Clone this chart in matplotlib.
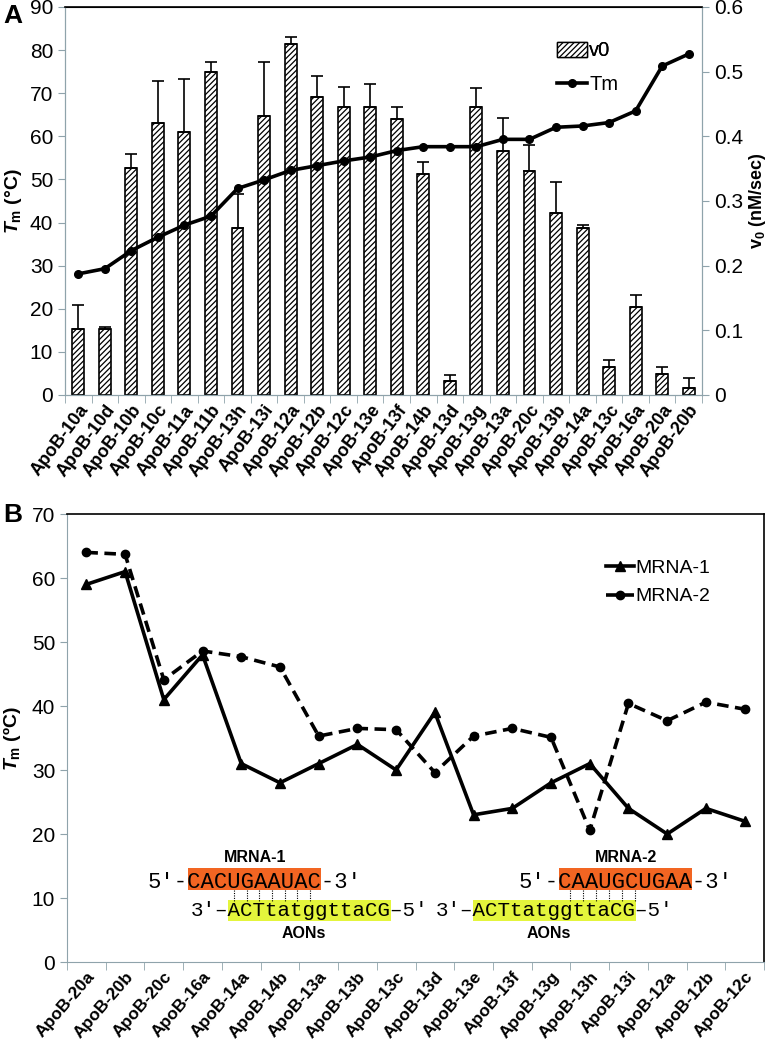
import numpy as np
import matplotlib
matplotlib.use('Agg')
import matplotlib.pyplot as plt
from matplotlib.lines import Line2D
from matplotlib.patches import Patch, Rectangle

plt.rcParams['font.family'] = ['Liberation Sans', 'DejaVu Sans']
plt.rcParams['mathtext.fontset'] = 'custom'
plt.rcParams['mathtext.it'] = 'Liberation Sans:italic:bold'
plt.rcParams['mathtext.rm'] = 'Liberation Sans:bold'
plt.rcParams['mathtext.bf'] = 'Liberation Sans:bold'
plt.rcParams['hatch.linewidth'] = 0.9

# ---- panel A data ----
names_a = ['ApoB-10a', 'ApoB-10d', 'ApoB-10b', 'ApoB-10c', 'ApoB-11a', 'ApoB-11b',
           'ApoB-13h', 'ApoB-13i', 'ApoB-12a', 'ApoB-12b', 'ApoB-12c', 'ApoB-13e',
           'ApoB-13f', 'ApoB-14b', 'ApoB-13d', 'ApoB-13g', 'ApoB-13a', 'ApoB-20c',
           'ApoB-13b', 'ApoB-14a', 'ApoB-13c', 'ApoB-16a', 'ApoB-20a', 'ApoB-20b']
v0 = [0.102, 0.102, 0.351, 0.421, 0.406, 0.499, 0.258, 0.432, 0.543, 0.461, 0.445, 0.445,
      0.427, 0.342, 0.021, 0.445, 0.378, 0.347, 0.282, 0.258, 0.043, 0.136, 0.032, 0.011]
v0_top = [0.139, 0.105, 0.373, 0.486, 0.489, 0.515, 0.311, 0.515, 0.553, 0.493, 0.477, 0.481,
          0.445, 0.361, 0.031, 0.475, 0.429, 0.386, 0.330, 0.263, 0.054, 0.154, 0.044, 0.026]
tm_a = [28.1, 29.3, 33.5, 36.6, 39.4, 41.5, 47.9, 49.9, 52.1, 53.2, 54.3, 55.2,
        56.7, 57.6, 57.6, 57.6, 59.3, 59.3, 62.1, 62.4, 63.2, 65.9, 76.3, 79.1]

# ---- panel B data ----
names_b = ['ApoB-20a', 'ApoB-20b', 'ApoB-20c', 'ApoB-16a', 'ApoB-14a', 'ApoB-14b',
           'ApoB-13a', 'ApoB-13b', 'ApoB-13c', 'ApoB-13d', 'ApoB-13e', 'ApoB-13f',
           'ApoB-13g', 'ApoB-13h', 'ApoB-13i', 'ApoB-12a', 'ApoB-12b', 'ApoB-12c']
mrna1 = [59, 61, 41, 48, 31, 28, 31, 34, 30, 39, 23, 24, 28, 31, 24, 20, 24, 22]
mrna2 = [64, 63.7, 44.1, 48.6, 47.7, 46.1, 35.3, 36.5, 36.3, 29.6, 35.3, 36.5,
         35.1, 20.6, 40.4, 37.7, 40.6, 39.5]

GRAY = '#8fa3ab'
W, H = 771, 1047


def fx(x):
    return x / W


def fy(y):
    return 1 - y / H


def style_axis(ax, n):
    for side in ['left', 'bottom', 'right']:
        ax.spines[side].set_color(GRAY)
    ax.spines['top'].set_color('black')
    ax.spines['top'].set_linewidth(1.2)
    ax.set_xlim(-0.5, n - 0.5)
    ax.set_xticks(np.arange(-0.5, n, 1), minor=True)
    ax.tick_params(axis='x', which='major', length=0, pad=5)
    ax.tick_params(axis='x', which='minor', length=6, color=GRAY)
    ax.tick_params(axis='y', length=5, color=GRAY, labelsize=15)


fig = plt.figure(figsize=(W / 100, H / 100), dpi=100)

# ================= panel A =================
ax = fig.add_axes([fx(65), fy(395), fx(702) - fx(65), fy(7) - fy(395)])
ax2 = ax.twinx()
xa = np.arange(len(names_a))
err = np.array(v0_top) - np.array(v0)
ax2.bar(xa, v0, width=0.45, color='white', edgecolor='black', linewidth=1.2,
        hatch='//////', yerr=[np.zeros(len(v0)), err],
        error_kw=dict(ecolor='black', elinewidth=1.2, capsize=4, capthick=1.2))
ax2.set_ylim(0, 0.6)
ax2.set_yticks(np.arange(0, 0.61, 0.1))
ax2.set_yticklabels(['0', '0.1', '0.2', '0.3', '0.4', '0.5', '0.6'])
ax2.tick_params(axis='y', length=5, color=GRAY, labelsize=15)
ax2.set_ylabel(r'$\mathrm{v}_\mathrm{0}$ (nM/sec)', fontsize=13, fontweight='bold', labelpad=3)

ax.set_zorder(ax2.get_zorder() + 1)
ax.patch.set_visible(False)
ax.plot(xa, tm_a, color='black', lw=2.6, marker='o', ms=5.5)
ax.set_ylim(0, 90)
ax.set_yticks(np.arange(0, 91, 10))
style_axis(ax, len(names_a))
for side in ['left', 'bottom', 'right']:
    ax2.spines[side].set_color(GRAY)
ax2.spines['top'].set_color('black')
ax.set_xticks(xa)
ax.set_xticklabels(names_a, rotation=53, ha='right', rotation_mode='anchor',
                   fontsize=13, fontweight='bold')
ax.set_ylabel(r'$T_\mathrm{m}$ (°C)', fontsize=14, fontweight='bold', labelpad=4)

# legend entries placed one by one so the row spacing matches
leg_v0 = fig.legend([Patch(facecolor='white', edgecolor='black', hatch='//////', linewidth=1)],
                    ['v0'], loc='center left', bbox_to_anchor=(fx(553), fy(51)),
                    frameon=False, fontsize=14.5, handlelength=1.5, handletextpad=0.1,
                    borderaxespad=0, borderpad=0.2)
fig.legend([Line2D([], [], color='black', lw=2.6, marker='o', ms=5.5)], ['Tm'],
           loc='center left', bbox_to_anchor=(fx(553), fy(85)),
           frameon=False, fontsize=14.5, handlelength=1.5, handletextpad=0.1,
           borderaxespad=0, borderpad=0.2)
fig.add_artist(leg_v0)
fig.text(fx(3), fy(16), 'A', fontsize=19, fontweight='bold', va='center')

# ================= panel B =================
bx = fig.add_axes([fx(67), fy(962), fx(764) - fx(67), fy(514) - fy(962)])
xb = np.arange(len(names_b))
bx.plot(xb, mrna1, color='black', lw=2.6, marker='^', ms=7.5, label='MRNA-1')
bx.plot(xb, mrna2, color='black', lw=2.6, ls=(0, (3.2, 1.8)), marker='o', ms=6,
        label='MRNA-2')
bx.set_ylim(0, 70)
bx.set_yticks(np.arange(0, 71, 10))
style_axis(bx, len(names_b))
bx.spines['right'].set_color('black')
bx.spines['right'].set_linewidth(1.2)
bx.set_xticks(xb)
bx.set_xticklabels(names_b, rotation=49, ha='right', rotation_mode='anchor',
                   fontsize=12.5, fontweight='bold')
bx.set_ylabel(r'$T_\mathrm{m}$ (ºC)', fontsize=14, fontweight='bold', labelpad=6)
bx.legend(loc='upper left', bbox_to_anchor=(fx(588), fy(542)),
          bbox_transform=fig.transFigure, frameon=False, fontsize=14,
          handlelength=1.45, handletextpad=0.1, labelspacing=0.55)
fig.text(fx(3), fy(515), 'B', fontsize=19, fontweight='bold', va='center')

# ---- duplex insets ----
MONO = ['Liberation Mono', 'DejaVu Sans Mono']
ORANGE = '#f26522'
YELLOW = '#e4f53c'
P = '\u2032'
FS_TOP, FS_BOT = 16, 15
CW_TOP = 0.6 * FS_TOP / 72 * 100
CW_BOT = 0.6 * FS_BOT / 72 * 100


def box(x0, x1, y0, y1, color):
    fig.add_artist(Rectangle((fx(x0), fy(y1)), fx(x1) - fx(x0), fy(y0) - fy(y1),
                             transform=fig.transFigure, facecolor=color,
                             edgecolor='none', zorder=1))


def duplex(title, core_top, x_orange, x_yellow, dots):
    o1 = x_orange + len(core_top) * CW_TOP
    box(x_orange, o1, 868, 890, ORANGE)
    fig.text(fx((x_orange + o1) / 2), fy(857), title, fontsize=11.5, fontweight='bold',
             ha='center', va='center')
    fig.text(fx(x_orange - 3 * CW_TOP), fy(888), "5'-" + core_top + "-3'",
             family=MONO, fontsize=FS_TOP, ha='left', va='baseline', zorder=3)
    core_bot = 'ACTtatggttaCG'
    y1 = x_yellow + len(core_bot) * CW_BOT
    box(x_yellow, y1, 900, 921, YELLOW)
    fig.text(fx(x_yellow - 3 * CW_BOT), fy(916), '3' + P + '\u2013' + core_bot + '\u20135' + P,
             family=MONO, fontsize=FS_BOT, ha='left', va='baseline', zorder=3)
    fig.text(fx((x_yellow + y1) / 2 - 5), fy(933), 'AONs', fontsize=11.5, fontweight='bold',
             ha='center', va='center')
    for xd in dots:
        fig.add_artist(Line2D([fx(xd), fx(xd)], [fy(890), fy(901)], color='black',
                              lw=0.8, ls=(0, (1, 1.2))))


duplex('MRNA-1', 'CACUGAAUAC', 188, 228, np.linspace(234, 310, 7))
duplex('MRNA-2', 'CAAUGCUGAA', 559, 473, np.linspace(570, 635, 6))

fig.savefig('out.png', dpi=100)
